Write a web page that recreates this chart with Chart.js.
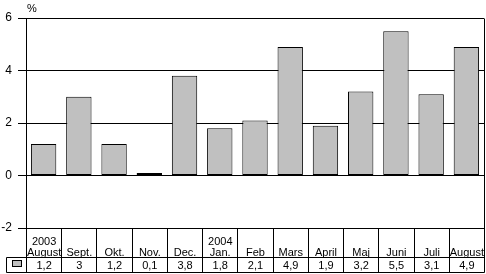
<!DOCTYPE html>
<html>
<head>
<meta charset="utf-8">
<script src="https://cdn.jsdelivr.net/npm/chart.js@4/dist/chart.umd.min.js"></script>
<style>
  html, body { margin: 0; padding: 0; background: #fff; }
  #wrap { width: 486px; height: 274px; position: relative; }
</style>
</head>
<body>
<div id="wrap"><canvas id="chart"></canvas></div>
<script>
// data
const years = ['2003', '', '', '', '', '2004', '', '', '', '', '', '', ''];
const months = ['August', 'Sept.', 'Okt.', 'Nov.', 'Dec.', 'Jan.', 'Feb', 'Mars', 'April', 'Maj', 'Juni', 'Juli', 'August'];
const values = [1.2, 3, 1.2, 0.1, 3.8, 1.8, 2.1, 4.9, 1.9, 3.2, 5.5, 3.1, 4.9];
const yTicks = [-2, 0, 2, 4, 6];

const FONT = '"Liberation Sans", Arial, sans-serif';
const BAR_FILL = '#c0c0c0';

// table under the plot + frame lines
const tablePlugin = {
    id: 'dataTable',
    afterDraw(chart) {
        const ctx = chart.ctx;
        const area = chart.chartArea;
        const xs = chart.scales.x;
        const step = xs.getPixelForValue(1) - xs.getPixelForValue(0);
        const rowMid = 257;
        const bottom = 272;
        const al = v => Math.round(v) + 0.5;

        ctx.save();
        ctx.strokeStyle = '#000';
        ctx.lineWidth = 1;
        ctx.beginPath();
        // column dividers
        for (let i = 0; i <= months.length; i++) {
            const x = al(xs.getPixelForValue(i) - step / 2);
            const top = (i === 0 || i === months.length) ? area.top : area.bottom;
            ctx.moveTo(x, al(top));
            ctx.lineTo(x, al(bottom));
        }
        // row lines
        ctx.moveTo(al(6), al(rowMid));
        ctx.lineTo(al(area.right), al(rowMid));
        ctx.moveTo(al(6), al(bottom));
        ctx.lineTo(al(area.right), al(bottom));
        ctx.moveTo(al(6), al(rowMid));
        ctx.lineTo(al(6), al(bottom));
        ctx.stroke();

        // legend swatch
        ctx.fillStyle = BAR_FILL;
        ctx.fillRect(13, 261, 9, 6);
        ctx.strokeRect(12.5, 260.5, 9, 6);

        // texts
        ctx.fillStyle = '#000';
        ctx.font = '11px ' + FONT;
        ctx.textAlign = 'center';
        ctx.textBaseline = 'alphabetic';
        months.forEach((m, i) => {
            const x = xs.getPixelForValue(i) + 0.5;
            if (years[i]) ctx.fillText(years[i], x, 245);
            ctx.fillText(m, x, 256);
            ctx.fillText(String(values[i]).replace('.', ','), x, 269);
        });

        ctx.textAlign = 'left';
        ctx.fillText('%', 27, 12);
        ctx.restore();
    }
};

new Chart(document.getElementById('chart'), {
    type: 'bar',
    data: {
        labels: months,
        datasets: [{
            data: values,
            backgroundColor: BAR_FILL,
            borderColor: '#000',
            borderWidth: 1,
            borderSkipped: false,
            barPercentage: 0.72,
            categoryPercentage: 1,
        }],
    },
    options: {
        responsive: true,
        maintainAspectRatio: false,
        animation: false,
        layout: { padding: { top: 18, right: 2, bottom: 46, left: 0 } },
        plugins: {
            legend: { display: false },
            tooltip: { enabled: false },
        },
        scales: {
            x: {
                display: false,
                grid: { display: false },
            },
            y: {
                min: -2,
                max: 6,
                afterFit(scale) { scale.width = 26; },
                afterBuildTicks(scale) { scale.ticks = yTicks.map(v => ({ value: v })); },
                grid: {
                    color: '#000',
                    lineWidth: 1,
                    tickLength: 8,
                    drawTicks: true,
                },
                border: { color: '#000', width: 1 },
                ticks: {
                    color: '#000',
                    padding: 6,
                    font: { family: FONT, size: 12 },
                },
            },
        },
    },
    plugins: [tablePlugin],
});
</script>
</body>
</html>
